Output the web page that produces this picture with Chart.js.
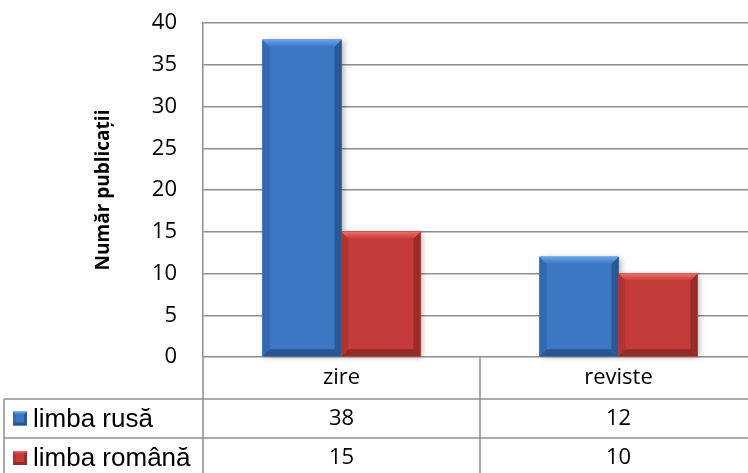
<!DOCTYPE html>
<html>
<head>
<meta charset="utf-8">
<script src="https://cdn.jsdelivr.net/npm/chart.js@4.4.1/dist/chart.umd.min.js"></script>
<style>
    html, body { margin: 0; padding: 0; background: #fff; overflow: hidden; }
    #wrap { width: 765px; height: 480px; }
</style>
</head>
<body>
<div id="wrap"><canvas id="chart" width="765" height="480"></canvas></div>
<script>
const categories = ['zire', 'reviste'];
const seriesNames = ['limba rusă', 'limba română'];
const rusaValues = [38, 12];
const romanaValues = [15, 10];
const yMin = 0;
const yMax = 40;
const yStep = 5;

// face, top bevel, left, right, bottom
const palettes = [
    ['#3c77c4', '#6aa6ea', '#3469b0', '#2b5895', '#2a5590'],
    ['#c33c39', '#f06f68', '#b03532', '#992c29', '#932a27']
];

const gridColor = '#8e8e8e';
const numFont = { family: '"Open Sans", sans-serif', size: 22 };
const legendFont = '26px "Liberation Sans", Arial, sans-serif';

function bevelBox(ctx, left, top, right, bottom, b, colors) {
    ctx.fillStyle = colors[0];
    ctx.fillRect(left, top, right - left, bottom - top);
    const poly = (pts, c) => {
        ctx.beginPath();
        ctx.moveTo(pts[0][0], pts[0][1]);
        for (let i = 1; i < pts.length; i++) ctx.lineTo(pts[i][0], pts[i][1]);
        ctx.closePath();
        ctx.fillStyle = c;
        ctx.fill();
    };
    poly([[left, top], [left + b, top + b], [left + b, bottom - b], [left, bottom]], colors[2]);
    poly([[right, top], [right - b, top + b], [right - b, bottom - b], [right, bottom]], colors[3]);
    poly([[left, bottom], [left + b, bottom - b], [right - b, bottom - b], [right, bottom]], colors[4]);
    const g = ctx.createLinearGradient(0, top, 0, top + b);
    g.addColorStop(0, colors[1]);
    g.addColorStop(1, colors[0]);
    poly([[left, top], [right, top], [right - b, top + b], [left + b, top + b]], g);
}

const bevelPlugin = {
    id: 'bevelBars',
    beforeDatasetsDraw(chart) {
        const ctx = chart.ctx;
        ctx.save();
        ctx.shadowColor = 'rgba(0,0,0,0.3)';
        ctx.shadowBlur = 6;
        ctx.shadowOffsetX = 2;
        ctx.shadowOffsetY = 1;
        chart.data.datasets.forEach((ds, i) => {
            chart.getDatasetMeta(i).data.forEach(bar => {
                ctx.fillStyle = palettes[i][0];
                ctx.fillRect(bar.x - bar.width / 2, bar.y, bar.width, bar.base - bar.y);
            });
        });
        ctx.restore();
    },
    afterDatasetsDraw(chart) {
        const ctx = chart.ctx;
        ctx.save();
        chart.data.datasets.forEach((ds, i) => {
            chart.getDatasetMeta(i).data.forEach(bar => {
                bevelBox(ctx, bar.x - bar.width / 2, bar.y, bar.x + bar.width / 2, bar.base, 7, palettes[i]);
            });
        });
        ctx.restore();
    }
};

const tablePlugin = {
    id: 'dataTable',
    afterDraw(chart) {
        const ctx = chart.ctx;
        const area = chart.chartArea;
        const xs = chart.scales.x;
        const half = (xs.getPixelForValue(1) - xs.getPixelForValue(0)) / 2;
        const rows = [area.bottom, area.bottom + 42, area.bottom + 81, area.bottom + 121];
        const tableLeft = 4;
        ctx.save();
        ctx.strokeStyle = gridColor;
        ctx.lineWidth = 1.5;
        const line = (x1, y1, x2, y2) => {
            ctx.beginPath();
            ctx.moveTo(x1, y1);
            ctx.lineTo(x2, y2);
            ctx.stroke();
        };
        // vertical lines
        line(area.left, area.bottom, area.left, rows[3]);
        categories.forEach((c, i) => {
            const xr = xs.getPixelForValue(i) + half;
            line(xr, area.bottom, xr, rows[3]);
        });
        line(tableLeft, rows[1], tableLeft, rows[3]);
        // horizontal lines
        for (let r = 1; r < rows.length; r++) {
            line(tableLeft, rows[r], area.right, rows[r]);
        }
        // texts
        ctx.fillStyle = '#000';
        ctx.textAlign = 'center';
        ctx.textBaseline = 'middle';
        ctx.font = numFont.size + 'px ' + numFont.family;
        const seriesValues = [rusaValues, romanaValues];
        categories.forEach((c, i) => {
            const cx = xs.getPixelForValue(i);
            ctx.fillText(c, cx, (rows[0] + rows[1]) / 2);
            seriesValues.forEach((vals, s) => {
                ctx.fillText(String(vals[i]), cx, (rows[s + 1] + rows[s + 2]) / 2);
            });
        });
        // legend keys
        ctx.textAlign = 'left';
        ctx.font = legendFont;
        seriesNames.forEach((name, s) => {
            const cy = (rows[s + 1] + rows[s + 2]) / 2;
            bevelBox(ctx, 13, cy - 7, 27, cy + 7, 3, palettes[s]);
            ctx.fillStyle = '#000';
            ctx.fillText(name, 33, cy + 1);
        });
        ctx.restore();
    }
};

new Chart(document.getElementById('chart'), {
    type: 'bar',
    data: {
        labels: categories,
        datasets: [
            { label: seriesNames[0], data: rusaValues, backgroundColor: palettes[0][0] },
            { label: seriesNames[1], data: romanaValues, backgroundColor: palettes[1][0] }
        ]
    },
    options: {
        responsive: false,
        animation: false,
        layout: { padding: { left: 0, right: 8, top: 23, bottom: 123 } },
        datasets: {
            bar: { categoryPercentage: 0.57, barPercentage: 1.0, borderWidth: 0 }
        },
        plugins: {
            legend: { display: false },
            tooltip: { enabled: false }
        },
        scales: {
            x: { display: false },
            y: {
                min: yMin,
                max: yMax,
                ticks: { stepSize: yStep, color: '#000', font: numFont, padding: 0 },
                grid: { color: gridColor, lineWidth: 1.5, drawTicks: true, tickLength: 26, tickColor: 'rgba(0,0,0,0)' },
                border: { display: true, color: gridColor, width: 1.5 },
                title: {
                    display: true,
                    text: 'Număr publicații',
                    color: '#000',
                    font: { family: '"Open Sans", sans-serif', size: 19, weight: 'bold' },
                    padding: { top: 92, bottom: 0 }
                },
                afterFit(scale) { scale.width = 203; }
            }
        }
    },
    plugins: [bevelPlugin, tablePlugin]
});
</script>
</body>
</html>
